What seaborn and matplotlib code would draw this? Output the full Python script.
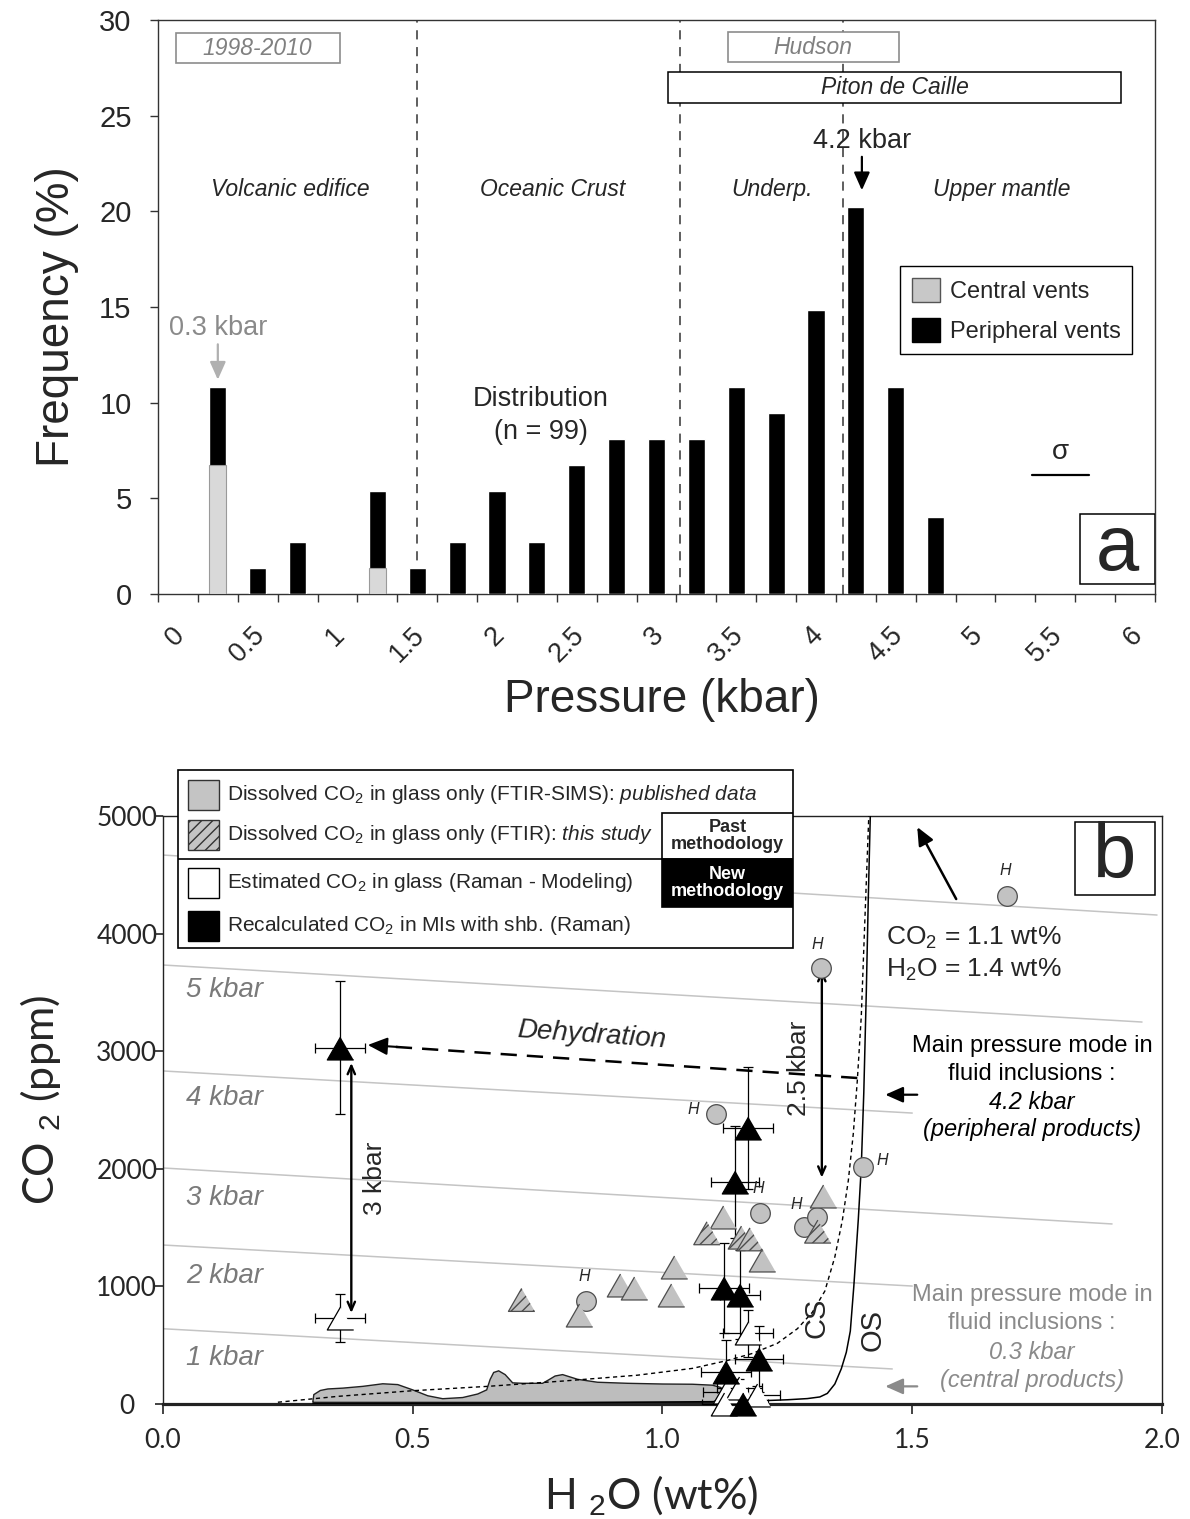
import numpy as np
import pandas as pd
import matplotlib
matplotlib.use("Agg")
import matplotlib.pyplot as plt
import matplotlib.transforms as mtransforms
from matplotlib.patches import Rectangle, Patch
import seaborn as sns

# ------------------------------------------------------------------ data
# (a) entrapment pressures of fluid inclusions, 0.25 kbar classes (% of inclusions)
pressure_classes = [0.0, 0.25, 0.5, 0.75, 1.0, 1.25, 1.5, 1.75, 2.0, 2.25, 2.5, 2.75, 3.0,
                    3.25, 3.5, 3.75, 4.0, 4.25, 4.5, 4.75, 5.0, 5.25, 5.5, 5.75, 6.0]
central_freq = [0, 6.75, 0, 0, 0, 1.35, 0, 0, 0, 0, 0, 0, 0,
                0, 0, 0, 0, 0, 0, 0, 0, 0, 0, 0, 0]
peripheral_freq = [0, 4.05, 1.35, 2.7, 0, 4.05, 1.35, 2.7, 5.4, 2.7, 6.75, 8.1, 8.1,
                   8.1, 10.8, 9.45, 14.85, 20.25, 10.8, 4.05, 0, 0, 0, 0, 0]
pressure_tick_labels = ["0", "0.5", "1", "1.5", "2", "2.5", "3", "3.5", "4", "4.5", "5", "5.5", "6"]
layer_boundaries_kbar = [1.5, 3.15, 4.17]

# (b) H2O (wt%) vs CO2 (ppm)
published_circle_h2o = [1.69, 1.318, 1.107, 1.196, 1.401, 1.284, 1.309, 0.847]
published_circle_co2 = [4320, 3710, 2465, 1620, 2013, 1505, 1592, 880]
published_tri_h2o = [1.121, 1.023, 1.017, 0.915, 0.942, 0.832, 1.200, 1.321]
published_tri_co2 = [1590, 1165, 925, 1010, 990, 755, 1225, 1765]
this_study_h2o = [0.718, 1.089, 1.158, 1.175, 1.311]
this_study_co2 = [885, 1452, 1415, 1400, 1466]

raman_model_h2o = [0.355, 1.171, 1.127, 1.154, 1.190, 1.124]
raman_model_co2 = [730, 601, 105, 136, 77, 0]
raman_model_h2o_err = [0.05, 0.05, 0.045, 0.045, 0.045, 0.045]
raman_model_co2_err = [205, 200, 80, 80, 80, 60]

shrinkage_h2o = [0.354, 1.171, 1.145, 1.123, 1.156, 1.193, 1.127, 1.162]
shrinkage_co2 = [3030, 2345, 1890, 985, 930, 385, 275, 0]
shrinkage_h2o_err = [0.05, 0.05, 0.048, 0.05, 0.04, 0.048, 0.05, 0.05]
shrinkage_co2_err = [565, 520, 475, 385, 380, 280, 270, 50]

# glass field of central-vent melt inclusions
glass_field_h2o = [0.30, 0.302, 0.315, 0.33, 0.36, 0.40, 0.44, 0.47, 0.50, 0.53, 0.56, 0.60,
                   0.63, 0.648, 0.655, 0.662, 0.672, 0.685, 0.70, 0.72, 0.76, 0.772, 0.785,
                   0.80, 0.83, 0.87, 0.93, 1.00, 1.06, 1.10, 1.117, 1.12, 1.112, 1.10, 0.30]
glass_field_co2 = [20, 80, 115, 128, 135, 150, 172, 165, 120, 70, 45, 55, 85, 120, 210, 268,
                   282, 250, 180, 176, 176, 205, 238, 250, 210, 185, 176, 170, 168, 160, 140,
                   90, 40, 14, 14]

# closed-system (CS) and open-system (OS) degassing paths
cs_h2o = [0.23, 0.35, 0.50, 0.65, 0.80, 0.95, 1.06, 1.13, 1.18, 1.23, 1.27, 1.30, 1.325,
          1.345, 1.36, 1.372, 1.382, 1.39, 1.398, 1.405, 1.413]
cs_co2 = [15, 65, 113, 150, 195, 245, 303, 370, 430, 516, 640, 780, 960, 1250, 1560, 1900,
          2300, 2750, 3300, 4100, 5000]
os_h2o = [0.30, 0.80, 1.10, 1.20, 1.25, 1.29, 1.315, 1.33, 1.345, 1.358, 1.368, 1.376,
          1.383, 1.392, 1.398, 1.403, 1.408, 1.412, 1.416]
os_co2 = [3, 10, 20, 28, 36, 46, 60, 90, 170, 300, 440, 620, 1000, 1570, 2020, 2650, 3500,
          4300, 5000]

# isobars (kbar): CO2 at H2O = 0 and at the end of each line
isobar_kbar = [1, 2, 3, 4, 5, 6]
isobar_co2_start = [640, 1352, 2007, 2832, 3733, 4668]
isobar_h2o_end = [1.46, 1.50, 1.90, 1.50, 1.96, 1.99]
isobar_co2_end = [298, 1003, 1531, 2474, 3248, 4158]

# ------------------------------------------------------------------ style
sns.set_theme(style="ticks")
plt.rcParams["font.family"] = ["Liberation Sans", "DejaVu Sans"]
plt.rcParams["mathtext.fontset"] = "custom"
plt.rcParams["mathtext.rm"] = "Liberation Sans"
plt.rcParams["mathtext.it"] = "Liberation Sans:italic"
plt.rcParams["mathtext.bf"] = "Liberation Sans:bold"
plt.rcParams["hatch.linewidth"] = 1.0
plt.rcParams["hatch.color"] = "#333333"

W, H = 1190, 1519
fig = plt.figure(figsize=(W / 100, H / 100), dpi=100)


def fx(px):
    return px / W


def fy(py):
    return 1 - py / H


# ================================================================== panel a
ax_a = fig.add_axes([fx(158), fy(594), fx(1155) - fx(158), fy(20) - fy(594)])
cats = [f"{p:g}" for p in pressure_classes]
totals = np.add(peripheral_freq, central_freq)
sns.barplot(x=cats, y=totals, order=cats, color="black", width=0.43, saturation=1,
            errorbar=None, ax=ax_a, zorder=3)
sns.barplot(x=cats, y=central_freq, order=cats, color="#d9d9d9", width=0.43, saturation=1,
            errorbar=None, edgecolor="#9a9a9a", linewidth=0.8, ax=ax_a, zorder=4)

ax_a.set_xlim(-0.5, len(cats) - 0.5)
ax_a.set_ylim(0, 30)
for b in layer_boundaries_kbar:
    ax_a.axvline(b / 0.25, color="#333333", ls=(0, (6, 5)), lw=1.1, zorder=1)

for s in ax_a.spines.values():
    s.set_color("#333333")
    s.set_linewidth(1.0)

ax_a.set_xticks(np.arange(-0.5, len(cats), 1.0))
ax_a.set_xticklabels([])
ax_a.set_xticks(np.arange(0, len(cats), 2), minor=True)
ax_a.set_xticklabels(pressure_tick_labels, minor=True, rotation=45, ha="right",
                     rotation_mode="anchor", fontsize=19.5)
ax_a.tick_params(axis="x", which="major", direction="out", length=6, width=1, color="#333333")
ax_a.tick_params(axis="x", which="minor", length=0, pad=20)
shift = mtransforms.ScaledTranslation(-6 / 100, 0, fig.dpi_scale_trans)
for lab in ax_a.get_xticklabels(minor=True):
    lab.set_transform(lab.get_transform() + shift)
ax_a.set_yticks(range(0, 31, 5))
ax_a.tick_params(axis="y", direction="out", length=6, width=1, color="#333333",
                 labelsize=21, pad=13)
ax_a.set_xlabel("Pressure (kbar)", fontsize=33, va="center")
ax_a.xaxis.set_label_coords(0.5055, -0.1847)
ax_a.set_ylabel("Frequency (%)", fontsize=33, va="center")
ax_a.yaxis.set_label_coords(-0.1013, 0.4826)

# upper boxes
ax_a.add_patch(Rectangle((-0.05, 27.75), 4.11, 1.57, facecolor="white", edgecolor="#8c8c8c",
                         lw=1.2, zorder=2))
ax_a.text(2.0, 28.53, "1998-2010", ha="center", va="center", fontsize=16.5, style="italic",
          color="#808080", zorder=5)
ax_a.add_patch(Rectangle((13.79, 27.8), 4.29, 1.57, facecolor="white", edgecolor="#8c8c8c",
                         lw=1.2, zorder=2))
ax_a.text(15.93, 28.58, "Hudson", ha="center", va="center", fontsize=16.5, style="italic",
          color="#808080", zorder=5)
ax_a.add_patch(Rectangle((12.29, 25.66), 11.36, 1.62, facecolor="white", edgecolor="black",
                         lw=1.1, zorder=2))
ax_a.text(17.97, 26.47, "Piton de Caille", ha="center", va="center", fontsize=16.5,
          style="italic", zorder=5)

for xx, txt in [(2.83, "Volcanic edifice"), (9.4, "Oceanic Crust"), (14.9, "Underp."),
                (20.66, "Upper mantle")]:
    ax_a.text(xx, 21.12, txt, ha="center", va="center", fontsize=16.5, style="italic")

ax_a.text(17.15, 23.68, "4.2 kbar", ha="center", va="center", fontsize=19.5)
ax_a.annotate("", xy=(17.15, 21.1), xytext=(17.15, 22.85),
              arrowprops=dict(arrowstyle="-|>,head_length=0.9,head_width=0.4", color="black",
                              lw=1.6, shrinkA=0, shrinkB=0))
ax_a.text(1.0, 13.9, "0.3 kbar", ha="center", va="center", fontsize=19.5, color="#8a8a8a")
ax_a.annotate("", xy=(1.0, 11.2), xytext=(1.0, 13.05),
              arrowprops=dict(arrowstyle="-|>,head_length=0.9,head_width=0.4", color="#b0b0b0",
                              lw=1.6, shrinkA=0, shrinkB=0))
ax_a.text(9.1, 10.19, "Distribution", ha="center", va="center", fontsize=19.5)
ax_a.text(9.1, 8.47, "(n = 99)", ha="center", va="center", fontsize=19.5)
ax_a.text(22.12, 7.42, "σ", ha="center", va="center", fontsize=20)
ax_a.plot([21.42, 22.85], [6.22, 6.22], color="black", lw=1.6)
ax_a.add_patch(Rectangle((22.62, 0.52), 1.88, 3.66, facecolor="white", edgecolor="black",
                         lw=1.1, zorder=5))
ax_a.text(23.56, 2.3, "a", ha="center", va="center", fontsize=56, zorder=6)

leg = ax_a.legend(handles=[Patch(facecolor="#c8c8c8", edgecolor="#555555", lw=1,
                                 label="Central vents"),
                           Patch(facecolor="black", edgecolor="black", label="Peripheral vents")],
                  loc="upper left", bbox_to_anchor=(fx(900), fy(266)),
                  bbox_transform=fig.transFigure, fontsize=17, frameon=True, fancybox=False,
                  edgecolor="black", framealpha=1, handlelength=1.2, handleheight=1.2,
                  handletextpad=0.4, borderpad=0.5, labelspacing=0.62, borderaxespad=0)
leg.get_frame().set_linewidth(1.0)

# ================================================================== panel b
ax_b = fig.add_axes([fx(163), fy(1404), fx(1162) - fx(163), fy(816) - fy(1404)])
ax_b.set_xlim(0, 2)
ax_b.set_ylim(0, 5000)

iso = pd.DataFrame({
    "kbar": np.repeat(isobar_kbar, 2),
    "h2o": np.ravel(np.column_stack([np.zeros(len(isobar_kbar)), isobar_h2o_end])),
    "co2": np.ravel(np.column_stack([isobar_co2_start, isobar_co2_end])),
})
sns.lineplot(data=iso, x="h2o", y="co2", units="kbar", estimator=None, sort=False,
             color="#c4c4c4", lw=1.1, ax=ax_b, zorder=1)
for k, y0 in zip(isobar_kbar[:5], [391, 1088, 1752, 2602, 3520]):
    ax_b.text(0.046, y0, f"{k} kbar", ha="left", va="center", fontsize=20, style="italic",
              color="#7a7a7a")

ax_b.fill(glass_field_h2o, glass_field_co2, facecolor="#bdbdbd", edgecolor="#222222",
          lw=1.0, zorder=2)
sns.lineplot(x=cs_h2o, y=cs_co2, sort=False, estimator=None, color="black", lw=1.0,
             ls=(0, (3, 2.5)), ax=ax_b, zorder=3)
sns.lineplot(x=os_h2o, y=os_co2, sort=False, estimator=None, color="black", lw=1.1,
             ax=ax_b, zorder=3)

ax_b.errorbar(raman_model_h2o, raman_model_co2, xerr=raman_model_h2o_err,
              yerr=raman_model_co2_err, fmt="none", ecolor="black", elinewidth=0.9,
              capsize=3.6, capthick=0.9, zorder=3.5)
ax_b.errorbar(shrinkage_h2o, shrinkage_co2, xerr=shrinkage_h2o_err, yerr=shrinkage_co2_err,
              fmt="none", ecolor="black", elinewidth=0.9, capsize=3.6, capthick=0.9, zorder=3.5)

tri = [(0, 0.87), (-1, -0.87), (1, -0.87)]
sns.scatterplot(x=published_circle_h2o, y=published_circle_co2, marker="o", s=200,
                color="#c2c2c2", edgecolor="#4d4d4d", linewidth=0.9, ax=ax_b, zorder=5)
sns.scatterplot(x=published_tri_h2o, y=published_tri_co2, marker=tri, s=361,
                color="#c2c2c2", edgecolor="#4d4d4d", linewidth=0.9, ax=ax_b, zorder=5)
sns.scatterplot(x=this_study_h2o, y=this_study_co2, marker=tri, s=361, color="#c2c2c2",
                edgecolor="#4d4d4d", linewidth=0.9, hatch="///", ax=ax_b, zorder=5)
sns.scatterplot(x=raman_model_h2o, y=raman_model_co2, marker=tri, s=361, facecolor="white",
                edgecolor="black", linewidth=0.9, ax=ax_b, zorder=6)
sns.scatterplot(x=shrinkage_h2o, y=shrinkage_co2, marker=tri, s=361, facecolor="black",
                edgecolor="black", linewidth=0.9, ax=ax_b, zorder=6)
for coll in ax_b.collections:
    coll.set_clip_on(False)

# "H" tags next to published circles (offsets in points)
h_tag_offsets = [(-1.5, 18), (-3, 17), (-16, 3), (-1.5, 18), (14, 5), (-6, 16), None, (-1.5, 17)]
for xh, yc, off in zip(published_circle_h2o, published_circle_co2, h_tag_offsets):
    if off is None:
        continue
    ax_b.annotate("H", (xh, yc), xytext=off, textcoords="offset points", ha="center",
                  va="center", fontsize=11.5, style="italic", zorder=7)

# dehydration trend
ax_b.plot([1.39, 0.45], [2772, 3041], color="black", lw=1.8, ls=(0, (6.5, 4)), zorder=4)
ax_b.annotate("", xy=(0.41, 3053), xytext=(0.47, 3036),
              arrowprops=dict(arrowstyle="-|>,head_length=1.0,head_width=0.45", color="black",
                              lw=1.5, shrinkA=0, shrinkB=0), zorder=4)
ax_b.text(0.858, 3138, "Dehydration", ha="center", va="center", fontsize=20, style="italic",
          rotation=-4)

# pressure gaps
ax_b.annotate("", xy=(0.377, 774), xytext=(0.377, 2900),
              arrowprops=dict(arrowstyle="<->,head_length=0.5,head_width=0.22", color="black",
                              lw=1.7, shrinkA=0, shrinkB=0), zorder=4)
ax_b.text(0.424, 1922, "3 kbar", ha="center", va="center", fontsize=19, rotation=90)
ax_b.annotate("", xy=(1.319, 1925), xytext=(1.319, 3690),
              arrowprops=dict(arrowstyle="<->,head_length=0.5,head_width=0.22", color="black",
                              lw=1.7, shrinkA=0, shrinkB=0), zorder=4)
ax_b.text(1.274, 2857, "2.5 kbar", ha="center", va="center", fontsize=19, rotation=90)

ax_b.text(1.308, 731, "CS", ha="center", va="center", fontsize=21, rotation=90)
ax_b.text(1.42, 629, "OS", ha="center", va="center", fontsize=21, rotation=90)

# bulk composition arrow
ax_b.annotate("", xy=(1.51, 4906), xytext=(1.588, 4294),
              arrowprops=dict(arrowstyle="-|>,head_length=0.9,head_width=0.4", color="black",
                              lw=1.8, shrinkA=0, shrinkB=0))
ax_b.text(1.448, 3963, "CO$_2$ = 1.1 wt%", ha="left", va="center", fontsize=19)
ax_b.text(1.448, 3690, "H$_2$O = 1.4 wt%", ha="left", va="center", fontsize=19)

# main pressure modes
for yy, txt, sty in [(3044, "Main pressure mode in", "normal"),
                     (2806, "fluid inclusions :", "normal"),
                     (2568, "4.2 kbar", "italic"),
                     (2330, "(peripheral products)", "italic")]:
    ax_b.text(1.74, yy, txt, ha="center", va="center", fontsize=17, style=sty, color="black")
for yy, txt, sty in [(927, "Main pressure mode in", "normal"),
                     (689, "fluid inclusions :", "normal"),
                     (442, "0.3 kbar", "italic"),
                     (196, "(central products)", "italic")]:
    ax_b.text(1.74, yy, txt, ha="center", va="center", fontsize=17, style=sty, color="#8a8a8a")
ax_b.annotate("", xy=(1.446, 2630), xytext=(1.51, 2630),
              arrowprops=dict(arrowstyle="-|>,head_length=0.9,head_width=0.4", color="black",
                              lw=1.6, shrinkA=0, shrinkB=0))
ax_b.annotate("", xy=(1.446, 150), xytext=(1.51, 150),
              arrowprops=dict(arrowstyle="-|>,head_length=0.9,head_width=0.4", color="#8a8a8a",
                              lw=1.6, shrinkA=0, shrinkB=0))

ax_b.add_patch(Rectangle((1.826, 4328), 0.16, 621, facecolor="white", edgecolor="black",
                         lw=1.1, zorder=6))
ax_b.text(1.906, 4650, "b", ha="center", va="center", fontsize=56, zorder=7)

for name, s in ax_b.spines.items():
    s.set_color("#222222")
    s.set_linewidth(2.3 if name == "bottom" else 1.0)
ax_b.set_xticks([0, 0.5, 1.0, 1.5, 2.0], labels=["0.0", "0.5", "1.0", "1.5", "2.0"],
               fontfamily="Lato", fontsize=19)
ax_b.set_yticks(range(0, 5001, 1000), labels=[str(v) for v in range(0, 5001, 1000)],
               fontfamily="Lato", fontsize=19, ha="center")
ax_b.tick_params(axis="x", direction="out", length=7, width=1.2, color="#222222", pad=10)
ax_b.tick_params(axis="y", direction="out", length=6, width=1.2, color="#222222", pad=20)
ax_b.set_xlabel("H $_2$O (wt%)", fontsize=31, fontfamily="Lato", va="center")
ax_b.xaxis.set_label_coords(0.4885, -0.155)
ax_b.set_ylabel("CO $_2$ (ppm)", fontsize=31, fontfamily="Lato", va="center")
ax_b.yaxis.set_label_coords(-0.123, 0.517)

# ------------------------------------------------------------------ panel b key
ax_k = fig.add_axes([fx(178), fy(948), fx(793) - fx(178), fy(770) - fy(948)])
ax_k.set_xlim(178, 793)
ax_k.set_ylim(948, 770)
ax_k.axis("off")
ax_k.add_patch(Rectangle((178, 770), 615, 178, facecolor="white", edgecolor="black", lw=1.2,
                         clip_on=False))
key_rows = [
    (795, dict(facecolor="#c4c4c4", edgecolor="#333333"),
     "Dissolved CO$_2$ in glass only (FTIR-SIMS): $\\mathit{published\\ data}$"),
    (835, dict(facecolor="#c4c4c4", edgecolor="#333333", hatch="///"),
     "Dissolved CO$_2$ in glass only (FTIR): $\\mathit{this\\ study}$"),
    (883, dict(facecolor="white", edgecolor="black"),
     "Estimated CO$_2$ in glass (Raman - Modeling)"),
    (926, dict(facecolor="black", edgecolor="black"),
     "Recalculated CO$_2$ in MIs with shb. (Raman)"),
]
for yc, sty, txt in key_rows:
    ax_k.add_patch(Rectangle((188, yc - 15), 31, 30, lw=1.0, **sty))
    ax_k.text(227, yc, txt, ha="left", va="center", fontsize=15)
ax_k.plot([178, 662], [859, 859], color="black", lw=1.2)
ax_k.add_patch(Rectangle((662, 813), 131, 46, facecolor="white", edgecolor="black", lw=1.2))
ax_k.text(727.5, 836, "Past\nmethodology", ha="center", va="center", fontsize=13,
          fontweight="bold", linespacing=1.0)
ax_k.add_patch(Rectangle((662, 859), 131, 48, facecolor="black", edgecolor="black", lw=1.2))
ax_k.text(727.5, 883, "New\nmethodology", ha="center", va="center", fontsize=13,
          fontweight="bold", color="white", linespacing=1.0)

fig.savefig("out.png", dpi=100)
